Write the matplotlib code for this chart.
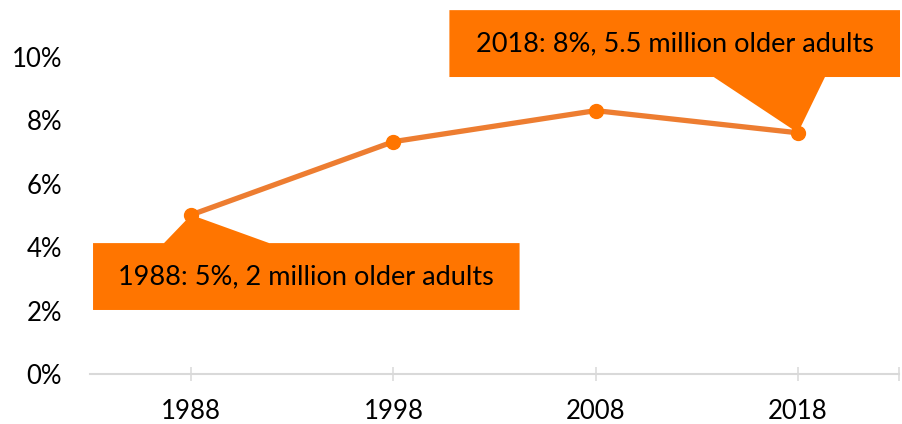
import matplotlib
matplotlib.use("Agg")
import matplotlib.pyplot as plt
from matplotlib.patches import Polygon

# data
years = ["1988", "1998", "2008", "2018"]
share = [5.02, 7.33, 8.31, 7.61]
y_ticks = [0, 2, 4, 6, 8, 10]
y_labels = ["0%", "2%", "4%", "6%", "8%", "10%"]
notes = ["1988: 5%, 2 million older adults", "2018: 8%, 5.5 million older adults"]

LINE = "#ED7D31"
BOX = "#FF7500"

plt.rcParams["font.family"] = ["Lato", "DejaVu Sans"]

fig = plt.figure(figsize=(9.03, 4.24), dpi=100)
ax = fig.add_axes([90 / 903, 50 / 424, 809 / 903, 374 / 424])

x = list(range(len(years)))
ax.plot(x, share, color=LINE, lw=3.8, zorder=3, solid_capstyle="round")
ax.plot(x, share, "o", color=BOX, ms=10, zorder=4)

ax.set_xlim(-0.5, 3.5)
ax.set_ylim(0, 11.8)


def callout(box, base, tip, text, top):
    x0, x1, yb, yt = box
    b1, b2 = base
    if top:
        pts = [(x0, yb), (x1, yb), (x1, yt), (b2, yt), tip, (b1, yt), (x0, yt)]
    else:
        pts = [(x0, yt), (x1, yt), (x1, yb), (b2, yb), tip, (b1, yb), (x0, yb)]
    ax.add_patch(Polygon(pts, closed=True, facecolor=BOX, edgecolor="none",
                         zorder=5, clip_on=False))
    ax.text((x0 + x1) / 2, (yb + yt) / 2, text, ha="center", va="center",
            fontsize=19.5, color="black", zorder=6)


callout((-0.485, 1.624, 2.02, 4.13), (-0.134, 0.386), (x[0], share[0]), notes[0], True)
callout((1.277, 3.505, 9.37, 11.48), (2.584, 3.134), (x[3], share[3]), notes[1], False)

ax.set_yticks(y_ticks)
ax.set_yticklabels(y_labels)
ax.set_xticks(x + [3.5])
ax.set_xticklabels(years + [""])

for s in ["top", "right", "left"]:
    ax.spines[s].set_visible(False)
ax.spines["bottom"].set_color("#D9D9D9")
ax.spines["bottom"].set_linewidth(1.5)
ax.tick_params(axis="y", length=0, pad=20, labelsize=18.5)
ax.tick_params(axis="x", direction="inout", length=9.5, width=1.1,
               color="#D9D9D9", pad=13.5, labelsize=18.5)

fig.savefig("out.png", dpi=100)
